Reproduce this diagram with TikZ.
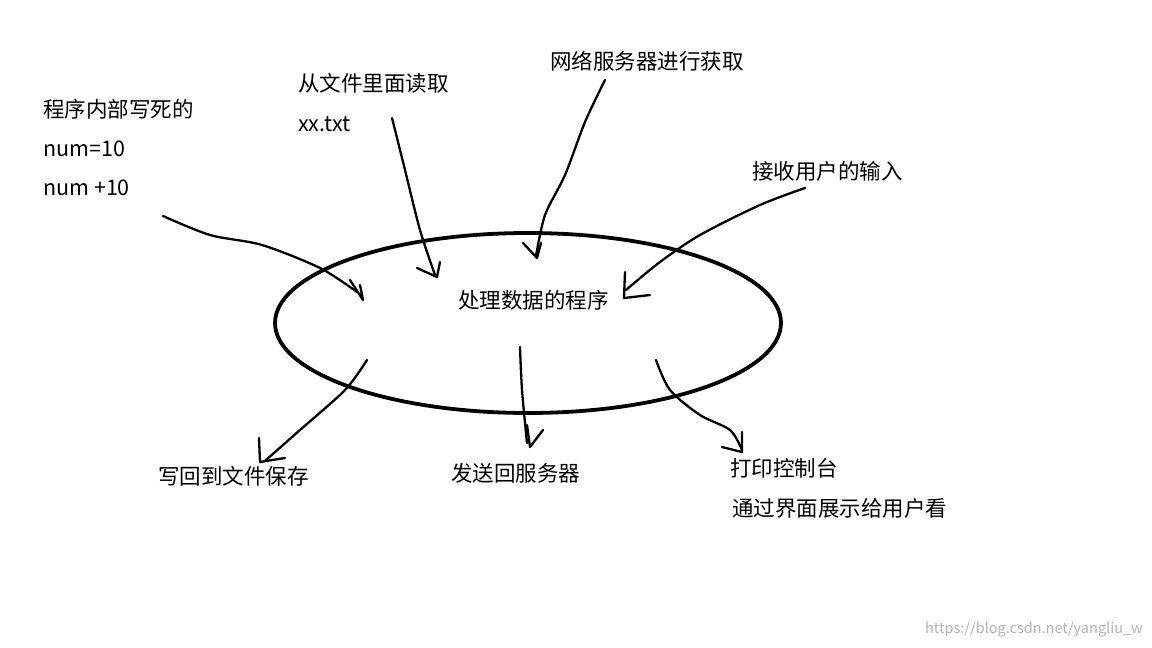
\documentclass[tikz,border=0pt]{standalone}
\usepackage{fontspec}
\setmainfont{Noto Sans CJK SC}
\begin{document}
\begin{tikzpicture}[x=1pt,y=-1pt,
  lbl/.style={anchor=west,inner sep=0pt,font=\fontsize{21.5}{24}\selectfont},
  hand/.style={line width=2.3pt,line cap=round,line join=round}]
\useasboundingbox[fill=white] (0,0) rectangle (1152,648);
\draw[line width=3.8pt] (528,323) ellipse [x radius=253, y radius=90];
\node[lbl] (a1) at (43,109) {程序内部写死的};
\node[lbl] (a2) at (43,149) {num=10};
\node[lbl] (a3) at (43,188) {num +10};
\node[lbl] (b1) at (298,83) {从文件里面读取};
\node[lbl] (b2) at (298,124) {xx.txt};
\node[lbl] (c1) at (550,61) {网络服务器进行获取};
\node[lbl] (d1) at (752,171) {接收用户的输入};
\node[lbl] (m) at (458,300) {处理数据的程序};
\node[lbl] (e1) at (158,476) {写回到文件保存};
\node[lbl] (f1) at (451,473) {发送回服务器};
\node[lbl] (g1) at (730,468) {打印控制台};
\node[lbl] (g2) at (732,508) {通过界面展示给用户看};
\node[anchor=east,inner sep=0pt,text=gray!60,font=\fontsize{14.5}{16}\selectfont] (w) at (1143,630) {https://blog.csdn.net/yangliu\_w};
% arrows in
\draw[hand] plot[smooth] coordinates {(163,216) (210,235) (262,245) (320,268) (357,292)};
\draw[hand] (350,280) -- (363,300) -- (360,285);
\draw[hand] plot[smooth] coordinates {(392,118) (405,170) (420,230) (435,275)};
\draw[hand] (417,268) -- (437,277) -- (440,262);
\draw[hand] plot[smooth] coordinates {(605,80) (585,122) (565,175) (545,215) (536,256)};
\draw[hand] (523,243) -- (537,258) -- (541,243);
\draw[hand] plot[smooth] coordinates {(805,188) (760,205) (700,235) (660,262) (626,290)};
\draw[hand] (625,272) -- (624,298) -- (650,295);
% arrows out
\draw[hand] plot[smooth] coordinates {(367,360) (345,390) (300,430) (266,460)};
\draw[hand] (259,438) -- (260,462) -- (285,458);
\draw[hand] plot[smooth] coordinates {(520,347) (522,390) (527,443)};
\draw[hand] (527,425) -- (530,447) -- (543,430);
\draw[hand] plot[smooth] coordinates {(656,360) (670,390) (700,415) (730,430) (742,450)};
\draw[hand] (722,447) -- (742,452) -- (742,432);
\end{tikzpicture}
\end{document}
